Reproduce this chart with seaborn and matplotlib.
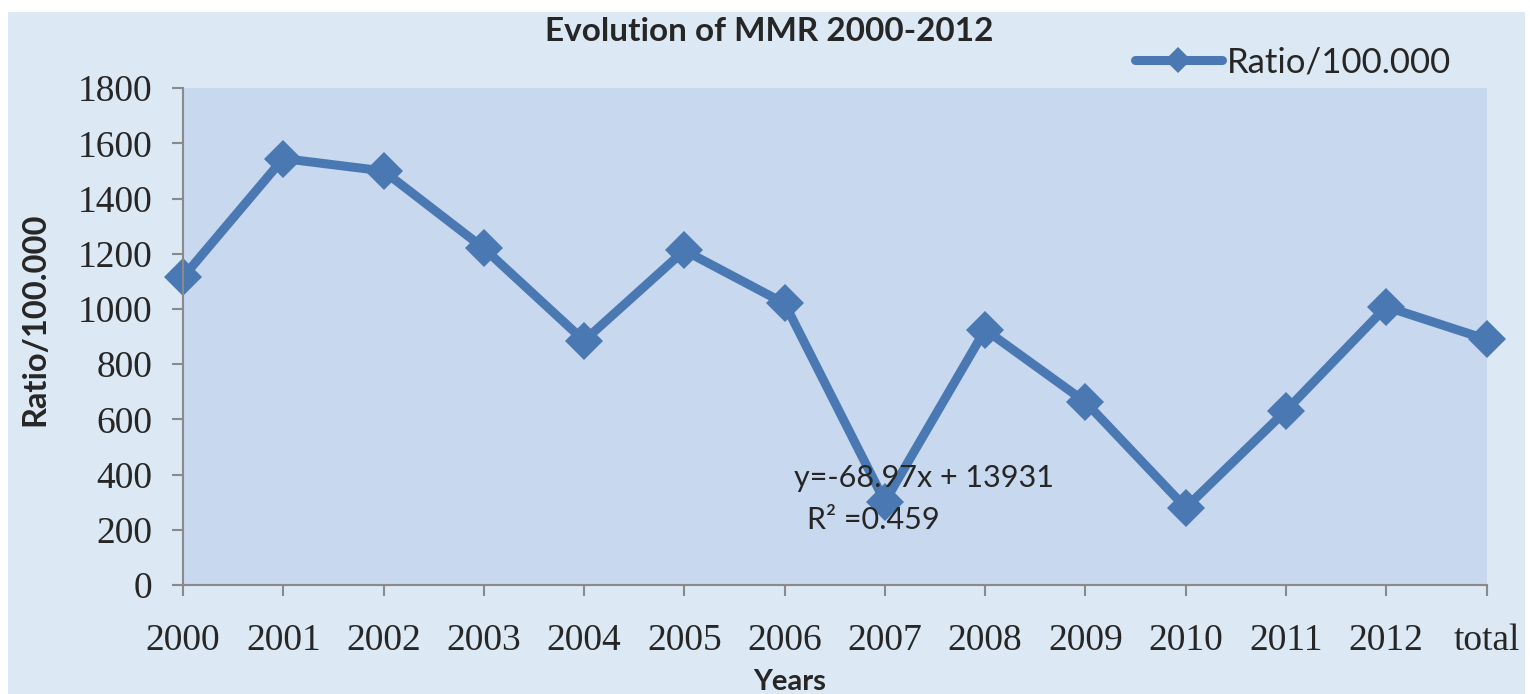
import pandas as pd
import seaborn as sns
import matplotlib.pyplot as plt
from matplotlib.patches import Rectangle

sns.set_theme(style="ticks")
plt.rcParams['font.family'] = ['Lato', 'DejaVu Sans']

# data
years = ["2000", "2001", "2002", "2003", "2004", "2005", "2006",
         "2007", "2008", "2009", "2010", "2011", "2012", "total"]
ratio = [1115, 1545, 1500, 1220, 885, 1212, 1020,
         302, 925, 663, 280, 632, 1008, 890]
y_ticks = [0, 200, 400, 600, 800, 1000, 1200, 1400, 1600, 1800]

df = pd.DataFrame({"pos": range(len(years)), "year": years, "Ratio/100.000": ratio})

line_col = "#4a78b2"
serif = ["Liberation Serif", "DejaVu Serif"]

fig = plt.figure(figsize=(15.3, 6.94), dpi=100, facecolor="white")
# light blue chart background with a white margin round it
fig.patches.append(Rectangle((0.005, 0.0), 0.992, 0.983, transform=fig.transFigure,
                             facecolor="#dce8f4", edgecolor="none", zorder=-10))
ax = fig.add_axes([0.1196, 0.157, 0.852, 0.716])
ax.set_facecolor("#c8d8ee")

sns.lineplot(data=df, x="pos", y="Ratio/100.000", ax=ax, color=line_col,
             marker="D", markersize=19, markeredgewidth=0, linewidth=6.5,
             label="Ratio/100.000", legend=False, clip_on=False)

ax.set_xlim(0, len(years) - 1)
ax.set_ylim(0, 1800)
ax.set_xticks(range(len(years)))
ax.set_xticklabels(years, fontsize=27, family=serif)
ax.set_yticks(y_ticks)
ax.set_yticklabels([str(v) for v in y_ticks], fontsize=27, family=serif)
ax.tick_params(axis="x", length=8, width=1.5, color="#8a8a8a", pad=20)
ax.tick_params(axis="y", length=8, width=1.5, color="#8a8a8a", pad=14)
for s in ["top", "right"]:
    ax.spines[s].set_visible(False)
for s in ["left", "bottom"]:
    ax.spines[s].set_color("#8a8a8a")
    ax.spines[s].set_linewidth(1.5)
ax.set_xlabel("")
ax.set_ylabel("")

fig.text(0.503, 0.955, "Evolution of MMR 2000-2012", ha="center", va="center",
         fontsize=24, fontweight="bold")
fig.text(0.023, 0.54, "Ratio/100.000", rotation=90, ha="center", va="center",
         fontsize=23.5, fontweight="bold")
fig.text(0.516, 0.018, "Years", ha="center", va="center", fontsize=21, fontweight="bold")

ax.text(0.469, 0.215, "y=-68.97x + 13931", transform=ax.transAxes, fontsize=22,
        ha="left", va="center")
ax.text(0.4785, 0.131, "R\u00b2 =0.459", transform=ax.transAxes, fontsize=22,
        ha="left", va="center")

leg = fig.legend(handles=ax.get_lines()[:1], labels=["Ratio/100.000"],
                 loc="center", bbox_to_anchor=(0.845, 0.91), frameon=False,
                 fontsize=25, handlelength=2.5, handletextpad=0.15, markerscale=0.7)

fig.savefig("out.png", dpi=100)
